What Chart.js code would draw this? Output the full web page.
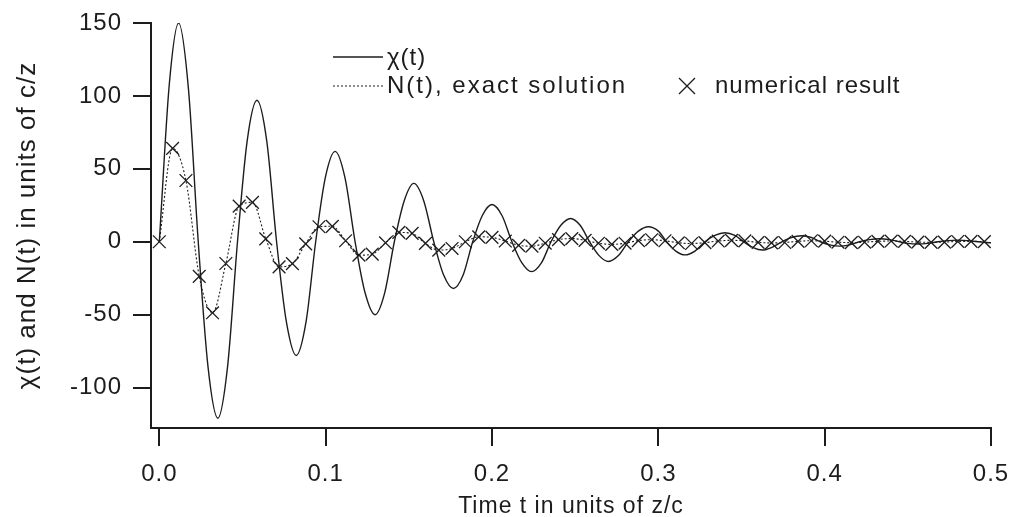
<!DOCTYPE html>
<html>
<head>
<meta charset="utf-8">
<script src="https://cdn.jsdelivr.net/npm/chart.js@4.4.1/dist/chart.umd.min.js"></script>
<style>
  html, body { margin: 0; padding: 0; background: #fff; }
  #wrap { width: 1012px; height: 517px; }
</style>
</head>
<body>
<div id="wrap"><canvas id="chartCanvas" width="1012" height="517"></canvas></div>
<script>
// chi(t) (peaks, troughs, zero crossings and shoulders)
var chiTime = [0,
  0.006, 0.0116, 0.0175, 0.0234, 0.0293, 0.0352, 0.041, 0.047,
  0.0528, 0.0587, 0.0646, 0.0705, 0.0764, 0.0823, 0.0882, 0.094,
  0.0998, 0.1057, 0.1116, 0.1177, 0.1237, 0.1297, 0.1355, 0.1413,
  0.1472, 0.153, 0.159, 0.165, 0.171, 0.1768, 0.1826, 0.1884,
  0.1942, 0.2, 0.206, 0.212, 0.218, 0.2238, 0.2297, 0.2355,
  0.2414, 0.2473, 0.253, 0.2587, 0.2644, 0.27, 0.276, 0.282,
  0.288, 0.294, 0.3, 0.305, 0.3105, 0.316, 0.322, 0.328,
  0.334, 0.34, 0.346, 0.3513, 0.357, 0.3626, 0.368, 0.3743,
  0.38, 0.386, 0.392, 0.3975, 0.403, 0.409, 0.415, 0.421,
  0.427, 0.433, 0.439, 0.445, 0.45, 0.456, 0.462, 0.468,
  0.474, 0.48, 0.486, 0.492, 0.5];
var chiValues = [0,
  108, 150, 105, 0, -86, -121, -86, 0,
  69, 97, 69, 0, -55, -78, -55, 0,
  44, 62, 44, 0, -35, -50, -35, 0,
  28, 40, 28, 0, -23, -32, -23, 0,
  18, 25.5, 18, 0, -14.5, -20.5, -14.5, 0,
  11.3, 16, 11.3, 0, -9.5, -13.5, -9.5, 0,
  7.3, 10.3, 7.3, 0, -6.4, -9, -6.4, 0,
  4.4, 6.2, 4.4, 0, -4, -5.7, -4, 0,
  2.9, 4.1, 2.9, 0, -2.1, -3, -2.1, 0,
  1.5, 2.1, 1.5, 0, -1.1, -1.5, -1.1, 0,
  0.8, 1.1, 0.8, 0, -0.7];

// N(t): the crosses (numerical result), the dotted exact curve runs through them
var numTime = [0, 0.008, 0.016, 0.024, 0.032, 0.04, 0.048, 0.056, 0.064, 0.072,
  0.08, 0.088, 0.096, 0.104, 0.112, 0.12, 0.128, 0.136, 0.144, 0.152,
  0.16, 0.168, 0.176, 0.184, 0.192, 0.2, 0.208, 0.216, 0.224, 0.232,
  0.24, 0.248, 0.256, 0.264, 0.272, 0.28, 0.288, 0.296, 0.304, 0.312,
  0.32, 0.328, 0.336, 0.344, 0.352, 0.36, 0.368, 0.376, 0.384, 0.392,
  0.4, 0.408, 0.416, 0.424, 0.432, 0.44, 0.448, 0.456, 0.464, 0.472,
  0.48, 0.488, 0.496];
var numValues = [0, 64, 42, -23.7, -48.7, -14.9, 24.4, 27, 2, -17.2,
  -15, -1.4, 10.3, 10.6, 0.7, -9.2, -8.5, -0.7, 6.4, 5.7,
  -1.1, -5.7, -4.6, 0, 3.4, 3.0, 0.5, -2.5, -3, -1,
  1.5, 2.2, 1, -1, -1.8, -1, 0.8, 1.4, 0.7, -0.7,
  -1.2, -0.6, 0.5, 1, 0.6, -0.4, -0.8, -0.5, 0.3, 0.7,
  0.4, -0.3, -0.6, -0.3, 0.3, 0.5, 0.3, -0.2, -0.4, -0.2,
  0.2, 0.3, 0.1];

var xTicks = [0, 0.1, 0.2, 0.3, 0.4, 0.5];
var yTicks = [-100, -50, 0, 50, 100, 150];
var seriesNames = ['\u03c7(t)', 'N(t), exact solution', 'numerical result'];
var xTitle = 'Time t in units of z/c';
var yTitle = '\u03c7(t) and N(t) in units of c/z';

var ink = '#1c1c1c';
var fontFamily = '"Liberation Sans", Arial, Helvetica, sans-serif';

function toPoints(xs, ys) {
  var pts = [];
  for (var i = 0; i < xs.length; i++) {
    pts.push({x: xs[i], y: ys[i]});
  }
  return pts;
}

// the original lettering runs a bit wide, so space the glyphs out a little
var wideText = {
  id: 'wideText',
  beforeDraw: function(chart) {
    chart.ctx.letterSpacing = '1px';
  }
};

// legend drawn by hand, two rows like the original
var plotLegend = {
  id: 'plotLegend',
  afterDraw: function(chart) {
    var ctx = chart.ctx;
    ctx.save();
    ctx.letterSpacing = '1px';
    ctx.strokeStyle = ink;
    ctx.fillStyle = ink;
    ctx.font = '24px ' + fontFamily;
    ctx.textBaseline = 'middle';

    ctx.lineWidth = 1.3;
    ctx.beginPath();
    ctx.moveTo(333, 57);
    ctx.lineTo(383, 57);
    ctx.stroke();
    ctx.fillText(seriesNames[0], 387, 58);

    ctx.setLineDash([2, 2]);
    ctx.lineWidth = 1.1;
    ctx.beginPath();
    ctx.moveTo(333, 86);
    ctx.lineTo(383, 86);
    ctx.stroke();
    ctx.setLineDash([]);
    ctx.letterSpacing = '2px';
    ctx.fillText(seriesNames[1], 387, 86);
    ctx.letterSpacing = '1px';

    ctx.lineWidth = 1.3;
    ctx.beginPath();
    ctx.moveTo(679, 78);
    ctx.lineTo(695, 94);
    ctx.moveTo(695, 78);
    ctx.lineTo(679, 94);
    ctx.stroke();
    ctx.fillText(seriesNames[2], 715, 86);
    ctx.restore();
  }
};

var ctx = document.getElementById('chartCanvas').getContext('2d');
var chart = new Chart(ctx, {
  type: 'scatter',
  data: {
    datasets: [
      {
        label: seriesNames[0],
        data: toPoints(chiTime, chiValues),
        showLine: true,
        borderColor: ink,
        borderWidth: 1.4,
        pointRadius: 0,
        cubicInterpolationMode: 'monotone',
        fill: false
      },
      {
        label: seriesNames[1],
        data: toPoints(numTime, numValues),
        showLine: true,
        borderColor: ink,
        borderWidth: 1.1,
        borderDash: [2, 2],
        pointRadius: 0,
        cubicInterpolationMode: 'monotone',
        fill: false
      },
      {
        label: seriesNames[2],
        data: toPoints(numTime, numValues),
        showLine: false,
        pointStyle: 'crossRot',
        pointRadius: 9,
        pointBorderWidth: 1.3,
        pointBorderColor: ink,
        pointBackgroundColor: ink
      }
    ]
  },
  options: {
    responsive: false,
    animation: false,
    devicePixelRatio: 1,
    layout: { padding: { top: 23, right: 21, bottom: 0, left: 0 } },
    plugins: {
      legend: { display: false },
      tooltip: { enabled: false }
    },
    scales: {
      x: {
        type: 'linear',
        min: -0.005,
        max: 0.5,
        afterBuildTicks: function(axis) {
          axis.ticks = xTicks.map(function(v) { return {value: v}; });
        },
        afterFit: function(axis) {
          axis.height = 89;
          axis.paddingLeft = 0;
          axis.paddingRight = 0;
        },
        ticks: {
          color: ink,
          padding: 14,
          maxRotation: 0,
          font: { family: fontFamily, size: 24 },
          callback: function(v) { return v.toFixed(1); }
        },
        grid: {
          drawOnChartArea: false,
          tickLength: 18,
          lineWidth: 2,
          color: ink
        },
        border: { display: true, color: ink, width: 2 },
        title: {
          display: true,
          text: xTitle,
          color: ink,
          font: { family: fontFamily, size: 23 },
          padding: { top: 0, bottom: -3 }
        }
      },
      y: {
        type: 'linear',
        min: -127.7,
        max: 150,
        afterBuildTicks: function(axis) {
          axis.ticks = yTicks.map(function(v) { return {value: v}; });
        },
        afterFit: function(axis) {
          axis.width = 151;
          axis.paddingTop = 0;
          axis.paddingBottom = 0;
        },
        ticks: {
          color: ink,
          padding: 11,
          font: { family: fontFamily, size: 24 },
          callback: function(v) { return String(v); }
        },
        grid: {
          drawOnChartArea: false,
          tickLength: 18,
          lineWidth: 2,
          color: ink
        },
        border: { display: true, color: ink, width: 2 },
        title: {
          display: true,
          text: yTitle,
          color: ink,
          font: { family: fontFamily, size: 26 },
          padding: { top: 12, bottom: 0 }
        }
      }
    }
  },
  plugins: [wideText, plotLegend]
});
</script>
</body>
</html>
